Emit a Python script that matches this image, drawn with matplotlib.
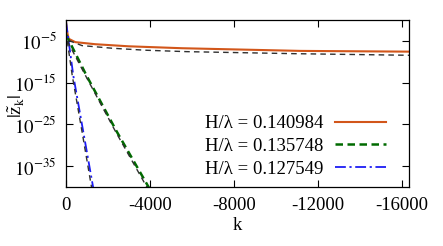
import matplotlib
matplotlib.use("Agg")
import matplotlib.pyplot as plt
import numpy as np

plt.rcParams['font.family'] = ['Liberation Serif', 'DejaVu Serif']
plt.rcParams['mathtext.fontset'] = 'stix'
plt.rcParams['font.size'] = 13.5

# values: k and log10 |z_k|
k_a = [0, -60, -129, -443, -1395, -2985, -5524, -11140, -16330]
log_a = [-0.5, -3.0, -4.5, -5.3, -5.8, -6.3, -6.76, -7.4, -7.58]
k_b = [0, -985, -2413, -3965, -4100]
log_b = [-3.5, -13.4, -26.7, -40.3, -41.7]
k_c = [0, -350, -820, -1300, -1380]
log_c = [-0.4, -13.4, -26.7, -40.3, -42.5]

# black dashed fits
k_fa = [-129, -762, -2190, -3775, -5745, -10810, -16330]
log_fa = [-4.9, -6.13, -6.76, -7.24, -7.58, -8.06, -8.45]
k_fb = [-60, -938, -2357, -3880, -4000]
log_fb = [-5.0, -13.4, -26.7, -40.3, -41.5]
k_fc = [-60, -300, -762, -1224, -1300]
log_fc = [-5.0, -13.4, -26.7, -40.3, -42.5]

labels = ['H/λ = 0.140984', 'H/λ = 0.135748', 'H/λ = 0.127549']
xticks = [0, -4000, -8000, -12000, -16000]
yticks = [1e-5, 1e-15, 1e-25, 1e-35]

fig = plt.figure(figsize=(4.43, 2.46), dpi=100)
ax = fig.add_axes([66/443, 1-187/246, (409-66)/443, (187-20)/246])

ax.plot(k_a, 10.0**np.array(log_a), color='#d2561a', lw=1.5, label=labels[0])
ax.plot(k_b, 10.0**np.array(log_b), color='#006a00', lw=1.8, dashes=(3, 1.8), label=labels[1])
ax.plot(k_c, 10.0**np.array(log_c), color='#1c1cf5', lw=1.3, dashes=(6, 2, 1.2, 2), label=labels[2])

for kk, ll in [(k_fa, log_fa), (k_fb, log_fb), (k_fc, log_fc)]:
    ax.plot(kk, 10.0**np.array(ll), color='#303030', lw=1.0, dashes=(4, 3))

ax.set_yscale('log')
ax.set_xlim(0, -16330)
ax.set_ylim(1e-40, 1e0)
ax.set_xticks(xticks)
ax.set_xticklabels([str(t) for t in xticks])
ax.set_yticks(yticks)
ax.set_yticklabels([r'$10^{-5}$', r'$10^{-15}$', r'$10^{-25}$', r'$10^{-35}$'])
ax.yaxis.set_minor_locator(matplotlib.ticker.NullLocator())
ax.tick_params(direction='in', length=5, width=0.8, top=True, right=True, pad=7)
for s in ax.spines.values():
    s.set_linewidth(0.9)

ax.set_xlabel('k', labelpad=2)
fig.text(17/443, 1-106/246, r'$|\mathrm{\tilde{z}}_{\mathrm{k}}|$', rotation=90,
         ha='center', va='center', fontsize=13.5)

ax.legend(loc='lower right', bbox_to_anchor=(0.96, 0.0), frameon=False, markerfirst=False,
          handlelength=2.7, handletextpad=0.65, labelspacing=0.3, borderpad=0)

fig.savefig('out.png', dpi=100)
